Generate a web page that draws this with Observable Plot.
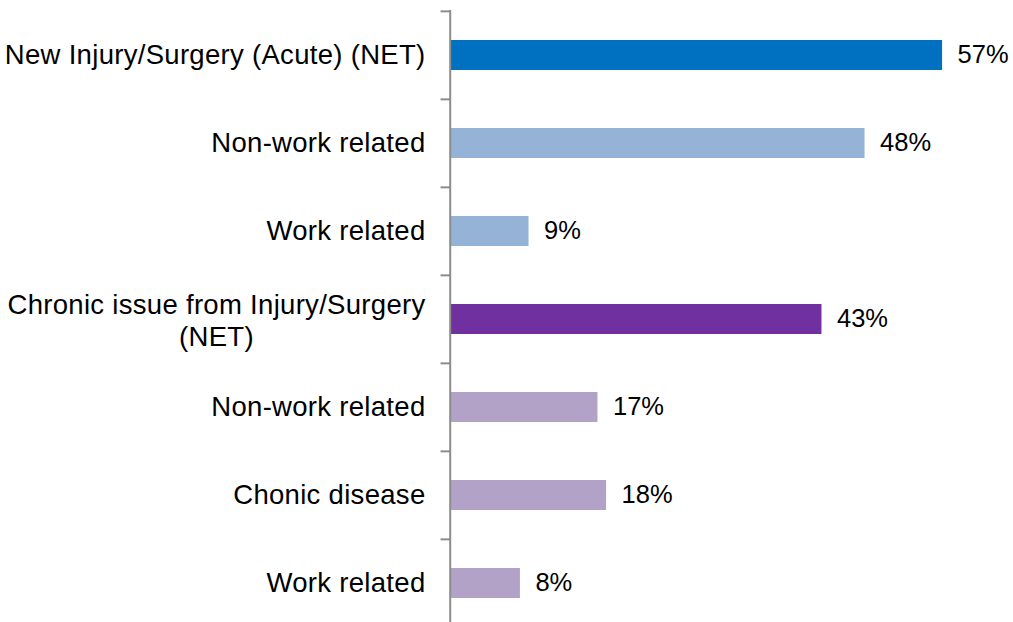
<!DOCTYPE html>
<html>
<head>
<meta charset="utf-8">
<script src="https://cdn.jsdelivr.net/npm/d3@7"></script>
<script src="https://cdn.jsdelivr.net/npm/@observablehq/plot@0.6"></script>
<style>
  html, body { margin: 0; padding: 0; background: #fff; }
  #chart svg { display: block; font-family: Arial, "Liberation Sans", sans-serif; }
  #chart svg .catlabel text { letter-spacing: 0.3px; }
</style>
</head>
<body>
<div id="chart"></div>
<script>
const ids = ["acute_net", "acute_nonwork", "acute_work", "chronic_net", "chronic_nonwork", "chronic_disease", "chronic_work"];
const labels = ["New Injury/Surgery (Acute) (NET)", "Non-work related", "Work related", "Chronic issue from Injury/Surgery\n(NET)", "Non-work related", "Chonic disease", "Work related"];
const values = [57, 48, 9, 43, 17, 18, 8];
const colors = ["#0070C0", "#95B3D7", "#95B3D7", "#7030A0", "#B3A2C7", "#B3A2C7", "#B3A2C7"];

const data = ids.map((id, i) => ({id, label: labels[i], value: values[i], color: colors[i]}));

const yRange = [10, 628];
const step = (yRange[1] - yRange[0]) / ids.length;
const labelOpts = {x: 0, y: "id", text: "label", textAnchor: "end", dx: -26, fontSize: 27.5, lineHeight: 1.17, fill: "#000", className: "catlabel"};

const chart = Plot.plot({
  width: 1013,
  height: 622,
  marginTop: 10,
  marginBottom: 0,
  marginLeft: 451,
  marginRight: 2,
  style: {fontFamily: "Arial, 'Liberation Sans', sans-serif", background: "#fff"},
  x: {domain: [0, 65], axis: null},
  y: {domain: ids, range: yRange, paddingInner: 0.66, paddingOuter: 0.33, axis: null},
  marks: [
    Plot.barX(data, {x: "value", y: "id", fill: "color"}),
    Plot.ruleX([0], {stroke: "#8c8c8c", strokeWidth: 2, dx: -1.3}),
    Plot.ruleY(data, {y: "id", x1: -1.1, x2: 0, dx: -1, dy: -step / 2, stroke: "#8c8c8c", strokeWidth: 2}),
    Plot.text(data.filter(d => !d.label.includes("\n")), {...labelOpts, dy: -2}),
    Plot.text(data.filter(d => d.label.includes("\n")), {...labelOpts}),
    Plot.text(data, {x: "value", y: "id", text: d => d.value + "%", textAnchor: "start", dx: 15, dy: -1, fontSize: 25.5, fill: "#000"})
  ]
});

document.getElementById("chart").appendChild(chart);

// Center multi-line category labels within their block (right-aligned to the axis)
chart.querySelectorAll("text").forEach(t => {
  const spans = t.querySelectorAll("tspan");
  if (spans.length > 1) {
    let maxW = 0;
    spans.forEach(s => { maxW = Math.max(maxW, s.getComputedTextLength()); });
    t.setAttribute("text-anchor", "middle");
    spans.forEach(s => s.setAttribute("x", -maxW / 2));
  }
});
</script>
</body>
</html>
